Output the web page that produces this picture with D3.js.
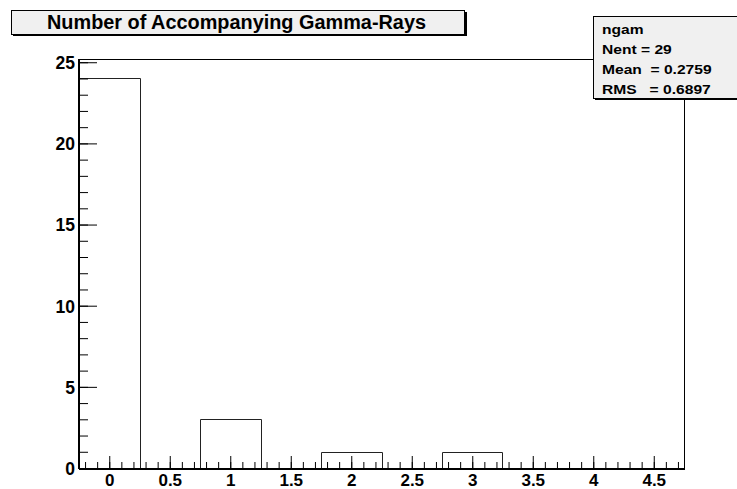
<!DOCTYPE html>
<html>
<head>
<meta charset="utf-8">
<script src="https://cdn.jsdelivr.net/npm/d3@7"></script>
<style>
  body { margin: 0; background: #fff; }
  text { font-family: "Liberation Sans", Arial, Helvetica, sans-serif; font-weight: bold; }
</style>
</head>
<body>
<script>
/* histogram of ngam, bins of width 0.5 */
var binCenters = [0, 0.5, 1, 1.5, 2, 2.5, 3, 3.5, 4, 4.5];
var counts = [24, 0, 3, 0, 1, 0, 1, 0, 0, 0];
var binWidth = 0.5;
var xTickLabels = [0, 0.5, 1, 1.5, 2, 2.5, 3, 3.5, 4, 4.5];
var yTickLabels = [0, 5, 10, 15, 20, 25];
var statsLines = ["ngam", "Nent = 29", "Mean  = 0.2759", "RMS   = 0.6897"];
var titleText = "Number of Accompanying Gamma-Rays";

var W = 737, H = 489;
var frame = {left: 79, top: 59, right: 684, bottom: 468};

var svg = d3.select("body").append("svg")
            .attr("width", W)
            .attr("height", H);

var x = d3.scaleLinear()
          .domain([binCenters[0] - binWidth / 2, binCenters[binCenters.length - 1] + binWidth / 2])
          .range([frame.left, frame.right]);
var y = d3.scaleLinear()
          .domain([0, 25.2])
          .range([frame.bottom, frame.top]);

/* frame (top and right edges) */
svg.append("rect")
   .attr("x", frame.left + 0.5)
   .attr("y", frame.top + 0.5)
   .attr("width", frame.right - frame.left)
   .attr("height", frame.bottom - frame.top)
   .attr("fill", "none")
   .attr("stroke", "#000")
   .attr("stroke-width", 1);

/* histogram outline */
var pts = [[x.domain()[0], 0]];
binCenters.forEach(function(c, i) {
  pts.push([c - binWidth / 2, counts[i]]);
  pts.push([c + binWidth / 2, counts[i]]);
});
pts.push([x.domain()[1], 0]);

svg.append("path")
   .attr("d", d3.line()
                .x(function(d) { return Math.round(x(d[0])) + 0.5; })
                .y(function(d) { return Math.round(y(d[1])) + 0.5; })(pts))
   .attr("fill", "none")
   .attr("stroke", "#222")
   .attr("stroke-width", 1);

/* x axis: minor ticks every 0.1, major every 0.5 */
var xMinor = d3.range(-2, 48).map(function(i) { return i / 10; });
var xg = svg.append("g").attr("transform", "translate(0," + frame.bottom + ")");
xg.append("g")
  .call(d3.axisBottom(x).tickValues(xMinor).tickSize(-6).tickFormat(""))
  .call(function(g) { g.select(".domain").remove(); });
xg.append("g")
  .call(d3.axisBottom(x).tickValues(xTickLabels).tickSize(-12)
          .tickFormat(function(d) { return d; }))
  .call(function(g) {
    g.select(".domain").remove();
    g.selectAll("text").attr("font-size", 17).attr("font-family", null)
     .attr("y", 18).attr("dy", null);
  });

/* y axis: minor every 1, major every 5 */
var yMinor = d3.range(0, 26);
var yg = svg.append("g").attr("transform", "translate(" + frame.left + ",0)");
yg.append("g")
  .call(d3.axisLeft(y).tickValues(yMinor).tickSize(-9).tickFormat(""))
  .call(function(g) { g.select(".domain").remove(); });
yg.append("g")
  .call(d3.axisLeft(y).tickValues(yTickLabels).tickSize(-18).tickPadding(4))
  .call(function(g) {
    g.select(".domain").remove();
    g.selectAll("text").attr("font-size", 17.5).attr("font-family", null).attr("dy", "0.36em");
  });

svg.selectAll(".tick line").attr("stroke", "#000");

/* thicker axis lines */
svg.append("line")
   .attr("x1", frame.left).attr("x2", frame.left)
   .attr("y1", frame.top).attr("y2", frame.bottom + 1)
   .attr("stroke", "#000").attr("stroke-width", 2);
svg.append("line")
   .attr("x1", frame.left).attr("x2", frame.right + 1)
   .attr("y1", frame.bottom + 1).attr("y2", frame.bottom + 1)
   .attr("stroke", "#000").attr("stroke-width", 2);

/* title box with shadow */
svg.append("rect")
   .attr("x", 13).attr("y", 12).attr("width", 454).attr("height", 24)
   .attr("fill", "#000");
svg.append("rect")
   .attr("x", 11.5).attr("y", 10.5).attr("width", 453).attr("height", 24)
   .attr("fill", "#f0f0f0").attr("stroke", "#000").attr("stroke-width", 1);
svg.append("text")
   .attr("x", 47).attr("y", 29)
   .attr("font-size", 19.5)
   .attr("textLength", 379)
   .attr("lengthAdjust", "spacingAndGlyphs")
   .text(titleText);

/* stats box */
svg.append("rect")
   .attr("x", 595).attr("y", 18).attr("width", 150).attr("height", 82)
   .attr("fill", "#000");
svg.append("rect")
   .attr("x", 593.5).attr("y", 16.5).attr("width", 150).attr("height", 82)
   .attr("fill", "#f0f0f0").attr("stroke", "#000").attr("stroke-width", 1);
svg.selectAll(".stat")
   .data(statsLines)
   .enter()
   .append("text")
   .attr("class", "stat")
   .attr("transform", function(d, i) {
     return "translate(602," + (33.5 + i * 20) + ") scale(1.2,1)";
   })
   .attr("font-size", 13)
   .style("white-space", "pre")
   .text(function(d) { return d; });
</script>
</body>
</html>
